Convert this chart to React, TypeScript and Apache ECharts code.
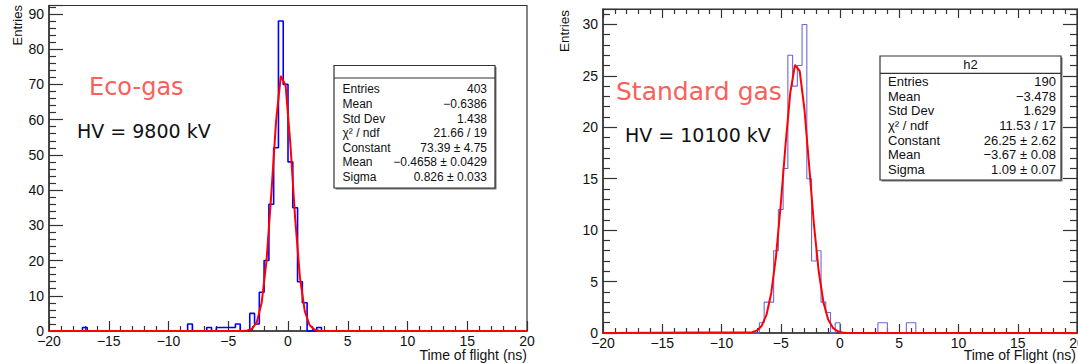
import React, { useEffect, useRef } from "react";
import * as echarts from "echarts";

// ---------------- data ----------------
const BIN_WIDTH = 0.4;
const X_MIN = -20;
const X_MAX = 20;

// Eco-gas histogram (non-empty bins: low edge, count)
const ecoBinLow = [-17.2, -8.4, -6.8, -6.0, -5.6, -5.2, -4.8, -4.4, -3.2, -2.8, -2.4, -2.0, -1.6, -1.2, -0.8, -0.4, 0.0, 0.4, 0.8, 1.2, 2.4];
const ecoCounts = [1, 2, 1, 1, 1, 1, 1, 2, 5, 2, 11, 20, 36, 52, 88, 70, 48, 35, 14, 8, 1];

// Standard gas histogram
const stdBinLow = [-6.8, -6.4, -6.0, -5.6, -5.2, -4.8, -4.4, -4.0, -3.6, -3.2, -2.8, -2.4, -2.0, -1.6, -1.2, -0.4, 3.2, 3.6, 5.6, 6.0];
const stdCounts = [1, 3, 3, 8, 12, 16, 27, 24, 26, 30, 15, 7, 8, 3, 2, 1, 1, 1, 1, 1];

const ecoFitX = [-20, -3.8, -3.4, -3.0, -2.6, -2.2, -1.8, -1.4, -1.0, -0.6, -0.2, 0.2, 0.6, 1.0, 1.4, 1.8, 2.2, 2.6, 3.0, 20];
const ecoFitY = [0, 0.02, 0.13, 0.66, 2.61, 8.1, 19.9, 38.7, 59.5, 72.4, 69.7, 53.0, 31.9, 15.2, 5.73, 1.7, 0.4, 0.07, 0.01, 0];

const stdFitX = [-20, -7.4, -7.0, -6.6, -6.2, -5.8, -5.4, -5.0, -4.6, -4.2, -3.8, -3.4, -3.0, -2.6, -2.2, -1.8, -1.4, -1.0, -0.6, -0.2, 0.2, 0.6, 20];
const stdFitY = [0, 0.08, 0.25, 0.71, 1.78, 3.89, 7.45, 12.47, 18.24, 23.32, 26.06, 25.46, 21.73, 16.21, 10.57, 6.03, 3.0, 1.31, 0.5, 0.17, 0.05, 0.01, 0];

// axis ranges
const ecoYMax = 92.4;
const stdYMax = 31.5;

// stat boxes
const ecoStatsTitle = "";
const ecoStats: [string, string][] = [
  ["Entries", "403"],
  ["Mean", "\u22120.6386"],
  ["Std Dev", "1.438"],
  ["\u03c7\u00b2 / ndf", "21.66 / 19"],
  ["Constant", "73.39 \u00b1 4.75"],
  ["Mean", "\u22120.4658 \u00b1 0.0429"],
  ["Sigma", "0.826 \u00b1 0.033"],
];
const stdStatsTitle = "h2";
const stdStats: [string, string][] = [
  ["Entries", "190"],
  ["Mean", "\u22123.478"],
  ["Std Dev", "1.629"],
  ["\u03c7\u00b2 / ndf", "11.53 / 17"],
  ["Constant", "26.25 \u00b1 2.62"],
  ["Mean", "\u22123.67 \u00b1 0.08"],
  ["Sigma", "1.09 \u00b1 0.07"],
];

// ---------------- helpers ----------------
function histSteps(binLow: number[], counts: number[]): number[][] {
  const n = Math.round((X_MAX - X_MIN) / BIN_WIDTH);
  const full = new Array(n).fill(0);
  binLow.forEach((lo, i) => {
    const k = Math.round((lo - X_MIN) / BIN_WIDTH);
    full[k] = counts[i];
  });
  const pts: number[][] = [];
  for (let k = 0; k < n; k++) {
    pts.push([+(X_MIN + k * BIN_WIDTH).toFixed(4), full[k]]);
  }
  pts.push([X_MAX, 0]);
  return pts;
}

const ROOT_FONT = "'Liberation Sans', Arial, Helvetica, sans-serif";
const ANNOT_FONT = "'DejaVu Sans', sans-serif";
const AX = "#333";

const fmtNum = (v: number) => (v < 0 ? "\u2212" + Math.abs(v) : String(v));

function xAxisCfg(grid: number, tickLen: number, minorLen: number, extra: any = {}) {
  return {
    type: "value",
    gridIndex: grid,
    min: X_MIN,
    max: X_MAX,
    interval: 5,
    axisLine: { show: true, onZero: false, lineStyle: { color: AX, width: 1.5 } },
    axisTick: { show: true, inside: true, length: tickLen, lineStyle: { color: AX, width: 1.2 } },
    minorTick: { show: true, splitNumber: 5, length: minorLen, lineStyle: { color: AX, width: 1.2 } },
    axisLabel: { show: true, margin: 3, fontSize: 14, fontFamily: ROOT_FONT, color: "#111", formatter: fmtNum },
    splitLine: { show: false },
    minorSplitLine: { show: false },
    ...extra,
  };
}

function yAxisCfg(grid: number, max: number, interval: number, extra: any = {}) {
  return {
    type: "value",
    gridIndex: grid,
    min: 0,
    max,
    interval,
    axisLine: { show: true, onZero: false, lineStyle: { color: AX, width: 1.5 } },
    axisTick: { show: true, inside: true, length: 14, lineStyle: { color: AX, width: 1.2 } },
    minorTick: { show: true, splitNumber: 5, length: 7, lineStyle: { color: AX, width: 1.2 } },
    axisLabel: { show: true, margin: 5, fontSize: 14, fontFamily: ROOT_FONT, color: "#111", showMaxLabel: false, formatter: fmtNum },
    splitLine: { show: false },
    minorSplitLine: { show: false },
    ...extra,
  };
}

function statBox(
  x: number, y: number, w: number, h: number, sepY: number,
  title: string, rows: [string, string][],
  rowY0: number, step: number, fontSize: number, padL: number, padR: number
) {
  const els: any[] = [];
  els.push({ type: "rect", z: 100, shape: { x: x + 1.5, y: y + 1.5, width: w, height: h }, style: { fill: "#777" } });
  els.push({ type: "rect", z: 101, shape: { x, y, width: w, height: h }, style: { fill: "#fff", stroke: "#333", lineWidth: 1.2 } });
  els.push({ type: "line", z: 102, shape: { x1: x, y1: sepY, x2: x + w, y2: sepY }, style: { stroke: "#333", lineWidth: 1.2 } });
  if (title) {
    els.push({
      type: "text", z: 103, x: x + w / 2, y: (y + sepY) / 2,
      style: { text: title, fontSize, fontFamily: ROOT_FONT, fill: "#111", align: "center", verticalAlign: "middle" },
    });
  }
  rows.forEach((r, i) => {
    const ty = rowY0 + i * step;
    els.push({
      type: "text", z: 103, x: x + padL, y: ty,
      style: { text: r[0], fontSize, fontFamily: ROOT_FONT, fill: "#111", align: "left", verticalAlign: "middle" },
    });
    els.push({
      type: "text", z: 103, x: x + w - padR, y: ty,
      style: { text: r[1], fontSize, fontFamily: ROOT_FONT, fill: "#111", align: "right", verticalAlign: "middle" },
    });
  });
  return els;
}

export default function App() {
  const ref = useRef<HTMLDivElement>(null);

  useEffect(() => {
    if (!ref.current) return;
    const chart = echarts.init(ref.current, null, { renderer: "svg" });

    const option: any = {
      animation: false,
      backgroundColor: "#ffffff",
      grid: [
        { left: 49, right: 551, top: 5.5, bottom: 33, show: true, borderColor: AX, borderWidth: 1.2, backgroundColor: "transparent", containLabel: false, outerBoundsMode: "none" },
        { left: 603, right: 1, top: 9, bottom: 31, show: true, borderColor: AX, borderWidth: 1.2, backgroundColor: "transparent", containLabel: false, outerBoundsMode: "none" },
      ],
      xAxis: [
        xAxisCfg(0, 10, 5),
        xAxisCfg(1, 9, 5),
        xAxisCfg(1, 9, 5, { position: "top", axisLabel: { show: false }, axisLine: { show: true, onZero: false, lineStyle: { color: AX, width: 1.2 } } }),
      ],
      yAxis: [
        yAxisCfg(0, ecoYMax, 10),
        yAxisCfg(1, stdYMax, 5),
        yAxisCfg(1, stdYMax, 5, { position: "right", axisLabel: { show: false }, axisLine: { show: true, onZero: false, lineStyle: { color: AX, width: 1.2 } } }),
      ],
      series: [
        {
          type: "line", xAxisIndex: 0, yAxisIndex: 0, step: "end", showSymbol: false, symbol: "none", clip: false,
          data: histSteps(ecoBinLow, ecoCounts),
          lineStyle: { color: "#0000ff", width: 1.6 }, z: 3,
        },
        {
          type: "line", xAxisIndex: 0, yAxisIndex: 0, showSymbol: false, symbol: "none", clip: false,
          data: ecoFitX.map((x, i) => [x, ecoFitY[i]]),
          lineStyle: { color: "#ff0000", width: 2 }, z: 4,
        },
        {
          type: "line", xAxisIndex: 1, yAxisIndex: 1, step: "end", showSymbol: false, symbol: "none", clip: false,
          data: histSteps(stdBinLow, stdCounts),
          lineStyle: { color: "#6a6ae0", width: 1.1 }, z: 3,
        },
        {
          type: "line", xAxisIndex: 1, yAxisIndex: 1, showSymbol: false, symbol: "none", clip: false,
          data: stdFitX.map((x, i) => [x, stdFitY[i]]),
          lineStyle: { color: "#ff0000", width: 2 }, z: 4,
        },
      ],
      graphic: [
        // axis titles
        { type: "text", z: 50, x: 17, y: 5, rotation: Math.PI / 2, style: { text: "Entries", fontSize: 13, fontFamily: ROOT_FONT, fill: "#111", align: "right", verticalAlign: "middle" } },
        { type: "text", z: 50, x: 527, y: 355, style: { text: "Time of flight (ns)", fontSize: 14, fontFamily: ROOT_FONT, fill: "#111", align: "right", verticalAlign: "middle" } },
        { type: "text", z: 50, x: 564, y: 10, rotation: Math.PI / 2, style: { text: "Entries", fontSize: 13.5, fontFamily: ROOT_FONT, fill: "#111", align: "right", verticalAlign: "middle" } },
        { type: "text", z: 50, x: 1076, y: 355, style: { text: "Time of Flight (ns)", fontSize: 14, fontFamily: ROOT_FONT, fill: "#111", align: "right", verticalAlign: "middle" } },
        // annotations
        { type: "text", z: 50, x: 89, y: 87, style: { text: "Eco-gas", fontSize: 24, fontFamily: ANNOT_FONT, fill: "#f9605a", align: "left", verticalAlign: "middle" } },
        { type: "text", z: 50, x: 77, y: 131, style: { text: "HV = 9800 kV", fontSize: 19, fontFamily: ANNOT_FONT, fill: "#111", align: "left", verticalAlign: "middle" } },
        { type: "text", z: 50, x: 616, y: 91, style: { text: "Standard gas", fontSize: 25, fontFamily: ANNOT_FONT, fill: "#f9605a", align: "left", verticalAlign: "middle" } },
        { type: "text", z: 50, x: 625, y: 135, style: { text: "HV = 10100 kV", fontSize: 19, fontFamily: ANNOT_FONT, fill: "#111", align: "left", verticalAlign: "middle" } },
        // stat boxes
        ...statBox(334, 65.5, 161, 122.5, 78, ecoStatsTitle, ecoStats, 89.3, 14.6, 12, 8.5, 8),
        ...statBox(880, 56, 181, 124, 73.3, stdStatsTitle, stdStats, 81.7, 14.6, 13, 8, 5),
      ],
    };

    chart.setOption(option);
    return () => chart.dispose();
  }, []);

  return (
    <div
      ref={ref}
      style={{ position: "absolute", left: 0, top: 0, width: 1078, height: 364, background: "#fff" }}
    />
  );
}
